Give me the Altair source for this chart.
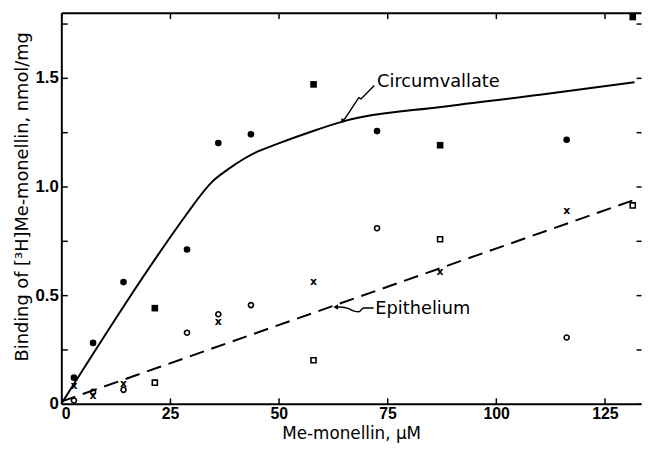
import altair as alt
import pandas as pd

# ---------------- data ----------------
circ_fill_x = [2.9, 7.3, 14.3, 28.9, 36.1, 43.6, 72.6, 116.2]
circ_fill_y = [0.12, 0.28, 0.56, 0.71, 1.20, 1.24, 1.255, 1.215]
circ_sq_x = [21.5, 58.0, 87.1, 131.4]
circ_sq_y = [0.44, 1.47, 1.19, 1.78]

epi_open_x = [2.9, 7.3, 14.3, 28.9, 36.1, 43.6, 72.6, 116.2]
epi_open_y = [0.015, 0.055, 0.064, 0.327, 0.412, 0.454, 0.808, 0.305]
epi_sq_x = [21.5, 58.0, 87.1, 131.4]
epi_sq_y = [0.097, 0.20, 0.757, 0.913]
epi_x_x = [2.9, 7.3, 14.3, 36.1, 58.0, 87.1, 116.2]
epi_x_y = [0.08, 0.037, 0.09, 0.375, 0.558, 0.607, 0.889]

circ_curve_x = [0, 29.3, 31.5, 34.6, 38.4, 42.2, 44.5, 49.8, 57.4, 65.0, 87.7, 110.5, 131.8]
circ_curve_y = [0, 0.886, 0.946, 1.02, 1.08, 1.13, 1.155, 1.197, 1.252, 1.301, 1.367, 1.423, 1.48]
epi_curve_x = [0, 132.0]
epi_curve_y = [0.01, 0.94]

label_text = ["Circumvallate", "Epithelium"]
label_x = [72.6, 72.2]
label_y = [1.48, 0.438]

arrow1_x = [71.97, 68.92, 68.40, 65.37, 64.59]
arrow1_y = [1.465, 1.403, 1.409, 1.317, 1.299]
arrow2_x = [71.8, 69.5, 68.4, 67.3, 66.1, 64.2, 63.1]
arrow2_y = [0.441, 0.441, 0.423, 0.4265, 0.438, 0.4457, 0.4457]
head_x = [64.59, 63.1]
head_y = [1.299, 0.4457]
head_angle = [220, 270]

x_ticks = [0, 25, 50, 75, 100, 125]
y_labels = [0, 0.5, 1.0, 1.5]
y_minor = [0, 0.25, 0.5, 0.75, 1.0, 1.25, 1.5, 1.75]

TOTAL_W, TOTAL_H = 642, 436
xs = alt.Scale(domain=[0, 133.3], nice=False, zero=False)
ys = alt.Scale(domain=[0, 1.8], nice=False, zero=False)

def df(x, y, **extra):
    d = pd.DataFrame({"x": x, "y": y})
    for k, v in extra.items():
        d[k] = v
    return d

def X(axis=None):
    return alt.X("x:Q", scale=xs, axis=axis)

def Y(axis=None):
    return alt.Y("y:Q", scale=ys, axis=axis)

ax_bottom = alt.Axis(orient="bottom", values=x_ticks, title="Me-monellin, μM", tickSize=0,
                     labelFont="Liberation Sans", labelFontWeight="bold", labelFontSize=16,
                     labelColor="black", labelPadding=2, titleFont="DejaVu Sans", titleFontSize=17,
                     titleFontWeight="normal", titleColor="black", titlePadding=4,
                     domainColor="black", domainWidth=2, grid=False)
ax_left = alt.Axis(orient="left", values=y_labels, title="Binding of [³H]Me-monellin, nmol/mg",
                   labelExpr="datum.value == 0 ? '0' : format(datum.value, '.1f')", tickSize=0,
                   labelFont="Liberation Sans", labelFontWeight="bold", labelFontSize=17,
                   labelColor="black", labelPadding=3, titleFont="DejaVu Sans", titleFontSize=18,
                   titleFontWeight="normal", titleColor="black", titlePadding=4, titleY=186,
                   domainColor="black", domainWidth=2, grid=False)
ax_in_bottom = alt.Axis(orient="top", offset=alt.ExprRef(expr="-height"), values=x_ticks,
                        domain=False, labels=False, tickSize=6, tickWidth=1.5, tickColor="black",
                        grid=False, title=None)
ax_in_left = alt.Axis(orient="right", offset=alt.ExprRef(expr="-width"), values=y_minor,
                      domain=False, labels=False, tickSize=6, tickWidth=1.5, tickColor="black",
                      grid=False, title=None)
ax_in_top = alt.Axis(orient="bottom", offset=alt.ExprRef(expr="-height"), values=x_ticks,
                     domain=True, domainColor="black", domainWidth=2, labels=False, tickSize=6,
                     tickWidth=1.5, tickColor="black", grid=False, title=None)
ax_in_right = alt.Axis(orient="left", offset=alt.ExprRef(expr="-width"), values=y_minor,
                       domain=False, labels=False, tickSize=5, tickWidth=1.5, tickColor="black",
                       grid=False, title=None)

circ_line = alt.Chart(df(circ_curve_x, circ_curve_y)).mark_line(
    color="black", strokeWidth=2, interpolate="monotone").encode(X(ax_in_bottom), Y(ax_in_left))
epi_line = alt.Chart(df(epi_curve_x, epi_curve_y)).mark_line(
    color="black", strokeWidth=2, strokeDash=[15, 8]).encode(X(ax_in_top), Y(ax_in_right))

p_fill = alt.Chart(df(circ_fill_x, circ_fill_y)).mark_point(
    shape="circle", filled=True, size=45, color="black", opacity=1).encode(X(ax_bottom), Y(ax_left))
p_fsq = alt.Chart(df(circ_sq_x, circ_sq_y)).mark_point(
    shape="square", filled=True, size=45, color="black", opacity=1).encode(X(), Y())
p_open = alt.Chart(df(epi_open_x, epi_open_y)).mark_point(
    shape="circle", filled=False, size=26, strokeWidth=1.6, color="black", opacity=1).encode(X(), Y())
p_osq = alt.Chart(df(epi_sq_x, epi_sq_y)).mark_point(
    shape="square", filled=False, size=26, strokeWidth=1.6, color="black", opacity=1).encode(X(), Y())
p_x = alt.Chart(df(epi_x_x, epi_x_y)).mark_text(
    text="x", font="DejaVu Sans", fontWeight="bold", fontSize=11, baseline="middle",
    align="center", color="black").encode(X(), Y())

labels = alt.Chart(df(label_x, label_y, t=label_text)).mark_text(
    font="DejaVu Sans", fontSize=18, align="left", baseline="middle", color="black").encode(
    X(), Y(), text="t:N")

a1 = alt.Chart(df(arrow1_x, arrow1_y, o=list(range(len(arrow1_x))))).mark_line(
    color="black", strokeWidth=1.5).encode(X(), Y(), order="o:Q")
a2 = alt.Chart(df(arrow2_x, arrow2_y, o=list(range(len(arrow2_x))))).mark_line(
    color="black", strokeWidth=1.5, interpolate="monotone").encode(X(), Y(), order="o:Q")
heads = alt.Chart(df(head_x, head_y, a=head_angle)).mark_point(
    shape="triangle-up", filled=True, size=30, color="black", opacity=1).encode(
    X(), Y(), angle=alt.Angle("a:Q", scale=None))

chart = alt.layer(
    p_fill, circ_line, epi_line, p_fsq, p_open, p_osq, p_x, labels, a1, a2, heads
).resolve_axis(x="independent", y="independent").properties(
    width=TOTAL_W, height=TOTAL_H,
    autosize=alt.AutoSizeParams(type="fit", contains="padding"),
    padding={"left": 5, "top": 1, "right": 0, "bottom": 0}
).configure_view(strokeWidth=0)

chart.save("out.html", embed_options={"renderer": "svg", "actions": False})
